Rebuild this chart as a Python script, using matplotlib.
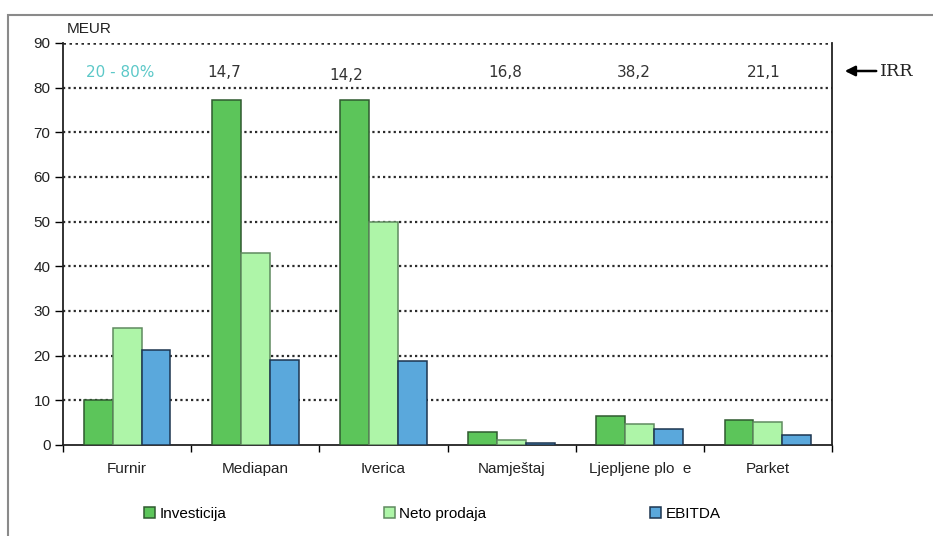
import matplotlib.pyplot as plt
import matplotlib.patches as mpatches
import numpy as np

# Data
categories = ['Furnir', 'Mediapan', 'Iverica', 'Namještaj', 'Ljepljene plo  e', 'Parket']
investicija = [10.1, 77.2, 77.2, 3.0, 6.5, 5.5]
neto_prodaja = [26.2, 43.0, 50.0, 1.2, 4.8, 5.2]
ebitda = [21.3, 19.0, 18.8, 0.5, 3.5, 2.2]
irr_labels = ['20 - 80%', '14,7', '14,2', '16,8', '38,2', '21,1']
y_ticks = [0, 10, 20, 30, 40, 50, 60, 70, 80, 90]

# layout of the IRR labels (data coords)
irr_x = [-0.05, 0.76, 1.71, 2.95, 3.95, 4.97]
irr_y = [83.5, 83.5, 82.8, 83.5, 83.5, 83.5]

plt.rcParams['font.family'] = ['Liberation Sans', 'DejaVu Sans']

fig = plt.figure(figsize=(9.33, 5.36), dpi=100)
ax = fig.add_axes([63 / 933, 1 - 445 / 536, 769 / 933, 402 / 536])

x = np.arange(len(categories))
w = 0.225
b1 = ax.bar(x - w, investicija, w, color='#5cc55a', edgecolor='#2f5a2f', lw=1.1, zorder=3, label='Investicija')
b2 = ax.bar(x, neto_prodaja, w, color='#aef5a8', edgecolor='#5f8a5f', lw=1.1, zorder=3, label='Neto prodaja')
b3 = ax.bar(x + w, ebitda, w, color='#5aa8dc', edgecolor='#1d3550', lw=1.1, zorder=3, label='EBITDA')

# dotted grid
for v in y_ticks[1:]:
    ax.axhline(v, color='#2a2a2a', lw=1.8 if v == 90 else 1.6, ls=(0, (1, 1.4)), zorder=1)

ax.set_xlim(-0.5, len(categories) - 0.5)
ax.set_ylim(0, 90)
ax.set_yticks(y_ticks)
ax.set_xticks(x)
ax.set_xticklabels(categories, fontsize=11, color='#222222')
ax.set_xticks(np.arange(-0.5, len(categories)), minor=True)
ax.tick_params(axis='x', which='major', length=0, pad=12)
ax.tick_params(axis='x', which='minor', length=5, width=1, direction='out')
ax.tick_params(axis='y', length=6, width=1, direction='out', pad=3, labelsize=11, labelcolor='#222222')

ax.spines['top'].set_visible(False)
for s in ['left', 'right', 'bottom']:
    ax.spines[s].set_linewidth(1.3)
    ax.spines[s].set_color('#222222')

# IRR row
for i, (lab, xx, yy) in enumerate(zip(irr_labels, irr_x, irr_y)):
    ax.text(xx, yy, lab, ha='center', va='center', fontsize=11,
            family='DejaVu Sans', color='#5cc8c8' if i == 0 else '#333333')

fig.text(67 / 933, 1 - 29 / 536, 'MEUR', ha='left', va='center', fontsize=11, color='#222222')

# arrow IRR
fig.patches.append(mpatches.FancyArrowPatch((879 / 933, 1 - 71 / 536), (842 / 933, 1 - 71 / 536),
                                            transform=fig.transFigure, arrowstyle='-|>',
                                            mutation_scale=15, lw=1.8, color='black'))
fig.text(880 / 933, 1 - 71 / 536, 'IRR', ha='left', va='center', fontsize=12.5,
         family='DejaVu Serif', color='#222222')

# outer frame
fig.patches.append(mpatches.Rectangle((8 / 933, -0.05), 1.1, 1 - 15 / 536 + 0.05,
                                      transform=fig.transFigure, fill=False,
                                      edgecolor='#8a8a8a', lw=1.5))

# legend
for bars, px in zip([b1, b2, b3], [144, 384, 650]):
    fig.legend(handles=[bars], loc='center left', bbox_to_anchor=(px / 933, 1 - 514 / 536),
               frameon=False, borderpad=0, borderaxespad=0, handlelength=0.7,
               handleheight=0.7, handletextpad=0.3, fontsize=11)

fig.savefig('out.png', dpi=100)
